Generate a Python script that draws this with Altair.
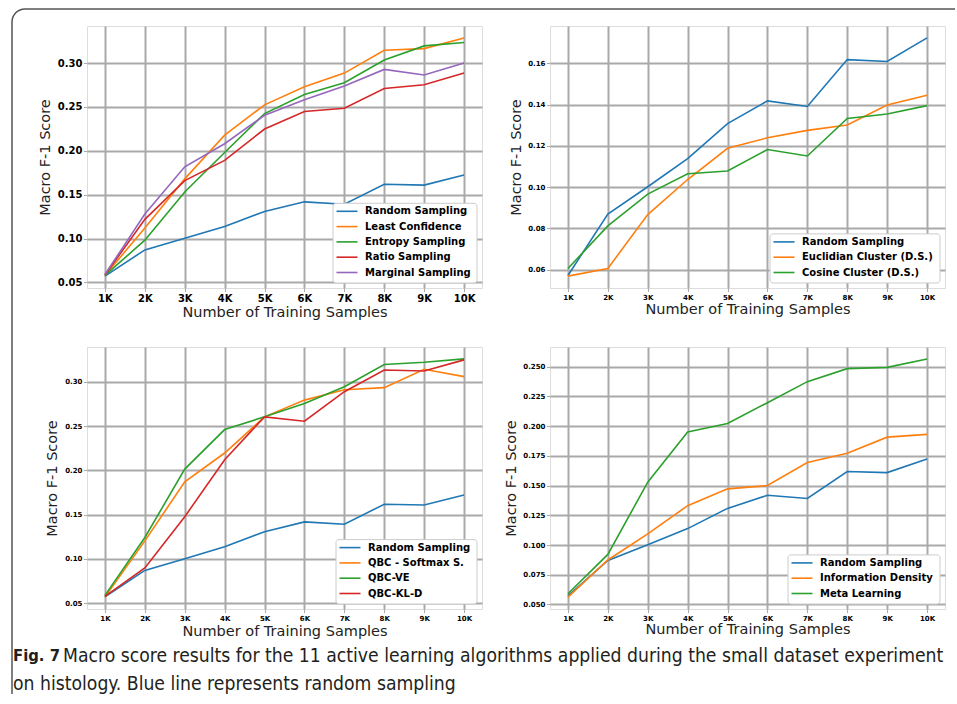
import altair as alt
import pandas as pd

# ---------------- data ----------------
samples_k = [1, 2, 3, 4, 5, 6, 7, 8, 9, 10]

random_sampling = [0.0572, 0.0870, 0.1002, 0.1138, 0.1308, 0.1418, 0.1391, 0.1618, 0.1609, 0.1723]

least_confidence = [0.0580, 0.1120, 0.1680, 0.2178, 0.2523, 0.2729, 0.2885, 0.3145, 0.3164, 0.3286]
entropy_sampling = [0.0580, 0.0981, 0.1530, 0.1980, 0.2424, 0.2641, 0.2775, 0.3034, 0.3195, 0.3233]
ratio_sampling = [0.0585, 0.1218, 0.1660, 0.1890, 0.2248, 0.2447, 0.2485, 0.2710, 0.2752, 0.2885]
marginal_sampling = [0.0590, 0.1279, 0.1817, 0.2080, 0.2405, 0.2580, 0.2737, 0.2927, 0.2863, 0.3000]

euclidian_cluster = [0.0569, 0.0606, 0.0867, 0.1037, 0.1188, 0.1239, 0.1275, 0.1301, 0.1398, 0.1445]
cosine_cluster = [0.0606, 0.0812, 0.0966, 0.1065, 0.1078, 0.1182, 0.1151, 0.1333, 0.1354, 0.1395]

qbc_softmax = [0.0568, 0.1204, 0.1871, 0.2197, 0.2606, 0.2795, 0.2913, 0.2936, 0.3144, 0.3061]
qbc_ve = [0.0587, 0.1242, 0.2015, 0.2462, 0.2606, 0.2758, 0.2947, 0.3197, 0.3223, 0.3261]
qbc_kl_d = [0.0576, 0.0898, 0.1477, 0.2121, 0.2606, 0.2557, 0.2890, 0.3136, 0.3125, 0.3250]

information_density = [0.0562, 0.0874, 0.1093, 0.1331, 0.1472, 0.1500, 0.1694, 0.1772, 0.1907, 0.1930]
meta_learning = [0.0590, 0.0921, 0.1528, 0.1950, 0.2022, 0.2197, 0.2374, 0.2483, 0.2494, 0.2565]

panel1_names = ["Random Sampling", "Least Confidence", "Entropy Sampling", "Ratio Sampling", "Marginal Sampling"]
panel1_series = [random_sampling, least_confidence, entropy_sampling, ratio_sampling, marginal_sampling]
panel2_names = ["Random Sampling", "Euclidian Cluster (D.S.)", "Cosine Cluster (D.S.)"]
panel2_series = [random_sampling, euclidian_cluster, cosine_cluster]
panel3_names = ["Random Sampling", "QBC - Softmax S.", "QBC-VE", "QBC-KL-D"]
panel3_series = [random_sampling, qbc_softmax, qbc_ve, qbc_kl_d]
panel4_names = ["Random Sampling", "Information Density", "Meta Learning"]
panel4_series = [random_sampling, information_density, meta_learning]

panel1_yticks = [0.05, 0.10, 0.15, 0.20, 0.25, 0.30]
panel2_yticks = [0.06, 0.08, 0.10, 0.12, 0.14, 0.16]
panel3_yticks = [0.05, 0.10, 0.15, 0.20, 0.25, 0.30]
panel4_yticks = [0.050, 0.075, 0.100, 0.125, 0.150, 0.175, 0.200, 0.225, 0.250]

y_title = "Macro F-1 Score"
x_title = "Number of Training Samples"
caption_bold = "Fig. 7"
caption_line1 = "Macro score results for the 11 active learning algorithms applied during the small dataset experiment"
caption_line2 = "on histology. Blue line represents random sampling"

palette = ["#1f77b4", "#ff7f0e", "#2ca02c", "#d62728", "#9467bd"]

GRID = "#a9a9a9"
W, H = 395, 262
ROW = 15.3          # legend row spacing (px)
LAST_ROW = 246.5    # legend last row centre (px from plot top)
BOX_BOTTOM = 257
BOX_RIGHT = 390


def long_df(names, series):
    rows = []
    for n, s in zip(names, series):
        for k, v in zip(samples_k, s):
            rows.append({"k": k, "score": v, "method": n})
    return pd.DataFrame(rows)


def panel(names, series, yticks, yfmt, label_size, title_x, title_y, box_left):
    df = long_df(names, series)
    allv = [v for s in series for v in s]
    lo, hi = min(allv), max(allv)
    m = (hi - lo) * 0.05
    x = alt.X(
        "k:Q",
        scale=alt.Scale(domain=[0.55, 10.45], nice=False, zero=False),
        axis=alt.Axis(
            values=samples_k, labelExpr="datum.value + 'K'", title=x_title,
            labelFont="DejaVu Sans", labelFontWeight="bold", labelFontSize=label_size,
            labelColor="black", labelFlush=False, tickSize=3.5, tickColor=GRID,
            labelPadding=1.5, domain=False, grid=True, gridColor=GRID, gridWidth=2,
            titleFont="DejaVu Sans", titleFontSize=14.5, titleFontWeight="normal",
            titleColor="#222222", titleBaseline="alphabetic", titleY=title_y,
        ),
    )
    y = alt.Y(
        "score:Q",
        scale=alt.Scale(domain=[lo - m, hi + m], nice=False, zero=False),
        axis=alt.Axis(
            values=yticks, format=yfmt, title=y_title,
            labelFont="DejaVu Sans", labelFontWeight="bold", labelFontSize=label_size,
            labelColor="black", labelFlush=False, tickSize=3.5, tickColor=GRID,
            labelPadding=1.5, domain=False, grid=True, gridColor=GRID, gridWidth=2,
            titleFont="DejaVu Sans", titleFontSize=14.5, titleFontWeight="normal",
            titleColor="#222222", titleBaseline="alphabetic", titleX=title_x,
        ),
    )
    cscale = alt.Scale(domain=names, range=palette[: len(names)])
    color = alt.Color("method:N", scale=cscale, legend=None)
    lines = (
        alt.Chart(df)
        .mark_line(strokeWidth=1.6)
        .encode(x=x, y=y, color=color, detail="method:N")
    )

    # legend built from the same series names
    n = len(names)
    first_row = LAST_ROW - ROW * (n - 1)
    leg_df = pd.DataFrame({"method": names})
    leg_base = alt.Chart(leg_df).transform_window(
        row="row_number()"
    ).transform_calculate(
        ly=f"{first_row} + {ROW} * (datum.row - 1)"
    )
    box = alt.Chart(pd.DataFrame({"b": [0]})).mark_rect(
        fill="white", stroke="#cccccc", strokeWidth=1, cornerRadius=3
    ).encode(
        x=alt.value(box_left), x2=alt.value(BOX_RIGHT),
        y=alt.value(first_row - 8), y2=alt.value(BOX_BOTTOM),
    )
    sym = leg_base.mark_rule(strokeWidth=1.6).encode(
        x=alt.value(box_left + 3.5), x2=alt.value(box_left + 24.5),
        y=alt.Y("ly:Q", scale=None, axis=None),
        color=alt.Color("method:N", scale=cscale, legend=None),
    )
    lab = leg_base.mark_text(
        align="left", baseline="middle", font="DejaVu Sans", fontWeight="bold",
        fontSize=10, color="black",
    ).encode(
        x=alt.value(box_left + 32),
        y=alt.Y("ly:Q", scale=None, axis=None),
        text="method:N",
    )
    return alt.layer(lines, box, sym, lab).resolve_scale(y="independent").properties(width=W, height=H)


one = pd.DataFrame({"t": [""]})
BORDER = "#555555"

top_rule = alt.Chart(one).mark_rule(color=BORDER, strokeWidth=1.5).encode(
    x=alt.value(-62), x2=alt.value(868), y=alt.value(-17)
)
left_rule = alt.Chart(one).mark_rule(color=BORDER, strokeWidth=1.5).encode(
    x=alt.value(-75), y=alt.value(-4), y2=alt.value(668)
)
corner = alt.Chart(one).mark_arc(
    theta=4.7124, theta2=6.2832, radius=13.75, radius2=12.25, color=BORDER
).encode(x=alt.value(-62), y=alt.value(-4))

cap_df = pd.DataFrame({"a": [caption_bold], "b": [caption_line1], "c": [caption_line2]})
cap_font = "DejaVu Sans Condensed"
cap_bold = alt.Chart(cap_df).mark_text(
    align="left", baseline="middle", font=cap_font, fontSize=16.5, fontWeight="bold", color="#231f20"
).encode(x=alt.value(-74), y=alt.value(309), text="a:N")
cap_l1 = alt.Chart(cap_df).mark_text(
    align="left", baseline="middle", font=cap_font, fontSize=19.2, color="#231f20"
).encode(x=alt.value(-24), y=alt.value(309), text="b:N")
cap_l2 = alt.Chart(cap_df).mark_text(
    align="left", baseline="middle", font=cap_font, fontSize=19.2, color="#231f20"
).encode(x=alt.value(-74), y=alt.value(337), text="c:N")

p1 = alt.layer(
    panel(panel1_names, panel1_series, panel1_yticks, ".2f", 10, -38, 28.5, 246),
    top_rule, left_rule, corner,
)
p2 = panel(panel2_names, panel2_series, panel2_yticks, ".2f", 7, -29.5, 25.5, 220)
p3 = alt.layer(
    panel(panel3_names, panel3_series, panel3_yticks, ".2f", 7, -31, 26, 249),
    cap_bold, cap_l1, cap_l2,
)
p4 = panel(panel4_names, panel4_series, panel4_yticks, ".3f", 7, -35, 24.5, 238)

chart = (
    alt.concat(p1, p2, p3, p4, columns=2, spacing={"row": 59, "column": 68}, bounds="flush")
    .resolve_scale(color="independent", x="independent", y="independent")
    .properties(padding={"left": 10, "top": 7, "right": 0, "bottom": 0}, background="white")
    .configure_view(stroke=GRID, strokeWidth=2)
    .configure(font="DejaVu Sans")
)

chart.save("out.html", embed_options={"renderer": "svg", "actions": False})
